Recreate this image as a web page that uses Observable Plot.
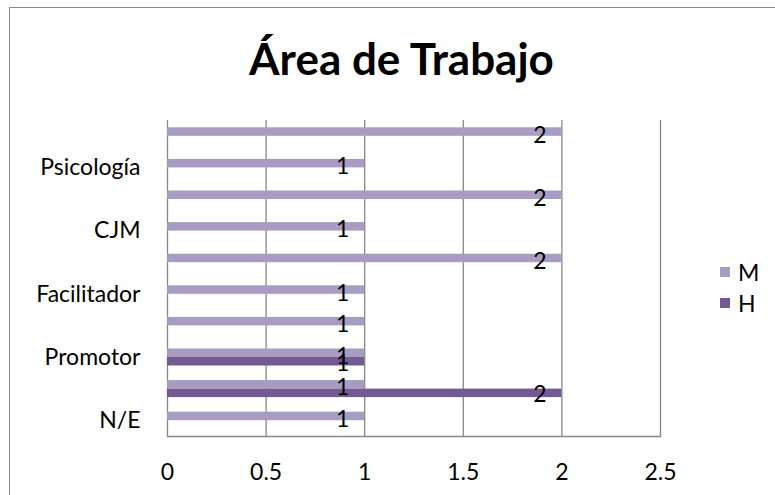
<!DOCTYPE html>
<html><head><meta charset="utf-8">
<script src="https://cdn.jsdelivr.net/npm/d3@7"></script>
<script src="https://cdn.jsdelivr.net/npm/@observablehq/plot@0.6"></script>
<style>
body{margin:0;background:#fff;}
#wrap{position:relative;width:775px;height:495px;overflow:hidden;font-family:Lato,"Open Sans",sans-serif;background:#fff;}
#border{position:absolute;left:9px;top:7px;width:820px;height:540px;border:1.5px solid #8a8a8a;box-sizing:border-box;}
#title{position:absolute;left:0;width:803px;top:30px;text-align:center;font-weight:bold;font-size:44px;line-height:56px;color:#000;}
#chart{position:absolute;left:0;top:0;}
#legend{position:absolute;left:720px;top:260px;font-size:23px;color:#000;}
.li{position:absolute;left:0;white-space:nowrap;display:flex;align-items:center;height:24px;}
.sw{width:10px;height:10px;margin-right:8px;}
</style>
</head><body>
<div id="wrap">
  <div id="border"></div>
  <div id="title">Área de Trabajo</div>
  <div id="chart"></div>
  <div id="legend"></div>
</div>
<script>
// Categories from bottom to top (only every other one is labelled on the axis)
const categories = ["N/E","Categoría 2","Promotor","Categoría 4","Facilitador","Categoría 6","CJM","Categoría 8","Psicología","Categoría 10"];
const labeledCategories = ["N/E","Promotor","Facilitador","CJM","Psicología"];
const seriesNames = ["M","H"];
const valuesM = [1,1,1,1,1,2,1,2,1,2];
const valuesH = [null,2,1,null,null,null,null,null,null,null];
const xTicks = [0,0.5,1,1.5,2,2.5];
const colors = {M:"#a89cc2", H:"#735b92"};

const dataM = categories.map((c,i)=>({cat:c, series:"M", value:valuesM[i]})).filter(d=>d.value!=null);
const dataH = categories.map((c,i)=>({cat:c, series:"H", value:valuesH[i]})).filter(d=>d.value!=null);

const W=775, H=495, mT=120, mB=59, mL=167, mR=115;
const bw = (H-mT-mB)/categories.length;
const barH = 8.5;
const fs = 23;

const chart = Plot.plot({
  width:W, height:H,
  marginTop:mT, marginBottom:mB, marginLeft:mL, marginRight:mR,
  style:{fontFamily:"Lato, 'Open Sans', sans-serif", background:"transparent", color:"#000"},
  x:{domain:[0,2.5]},
  y:{domain:categories.slice().reverse(), padding:0, round:false},
  marks:[
    Plot.ruleX(xTicks, {stroke:"#878787", strokeWidth:1.3}),
    Plot.frame({anchor:"bottom", stroke:"#878787", strokeWidth:1.3}),
    Plot.barX(dataM, {x:"value", y:"cat", fill:colors.M, insetTop:bw/2-barH, insetBottom:bw/2}),
    Plot.barX(dataH, {x:"value", y:"cat", fill:colors.H, insetTop:bw/2, insetBottom:bw/2-barH}),
    Plot.text(dataM, {x:"value", y:"cat", text:d=>String(d.value), dx:-22, dy:-1, fontSize:fs, fill:"#000"}),
    Plot.text(dataH, {x:"value", y:"cat", text:d=>String(d.value), dx:-22, dy:6, fontSize:fs, fill:"#000"}),
    Plot.axisX({ticks:xTicks, tickFormat:d=>String(d), tickSize:0, tickPadding:27, fontSize:fs, label:null}),
    Plot.axisY({ticks:labeledCategories, tickSize:0, tickPadding:27, fontSize:fs, label:null})
  ]
});
document.getElementById("chart").appendChild(chart);

const legend = document.getElementById("legend");
seriesNames.forEach((s,i)=>{
  const d=document.createElement("div");
  d.className="li"; d.style.top=(i*31)+"px";
  d.innerHTML=`<span class="sw" style="background:${colors[s]}"></span><span>${s}</span>`;
  legend.appendChild(d);
});
</script>
</body></html>
